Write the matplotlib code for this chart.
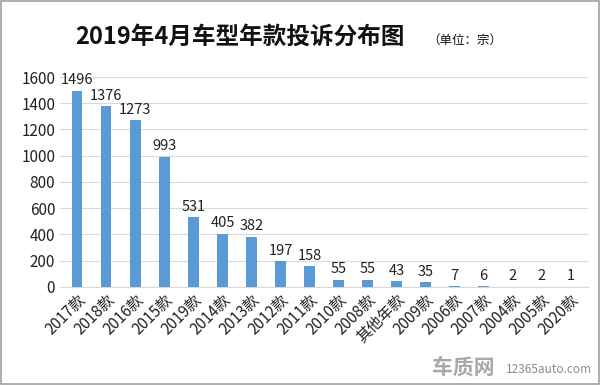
import matplotlib.pyplot as plt
from matplotlib.patches import Rectangle

plt.rcParams['font.family'] = ['Noto Sans CJK SC', 'DejaVu Sans']

categories = ['2017款', '2018款', '2016款', '2015款', '2019款', '2014款', '2013款',
              '2012款', '2011款', '2010款', '2008款', '其他年款', '2009款', '2006款',
              '2007款', '2004款', '2005款', '2020款']
values = [1496, 1376, 1273, 993, 531, 405, 382, 197, 158, 55, 55, 43, 35, 7, 6, 2, 2, 1]

fig = plt.figure(figsize=(6, 3.85), dpi=100)
ax = fig.add_axes([0.1, 0.255, 0.88, 0.545])

x = range(len(categories))
ax.bar(x, values, width=0.35, color='#5b9bd5', zorder=3)
for xi, v in zip(x, values):
    ax.text(xi, v + 25, str(v), ha='center', va='bottom', fontsize=10.5, color='#222222')

ax.set_ylim(0, 1600)
ax.set_yticks(range(0, 1601, 200))
ax.set_xlim(-0.6, len(categories) - 0.4)
ax.set_xticks(list(x))
ax.set_xticklabels(categories, rotation=45, ha='right', rotation_mode='anchor', fontsize=11)
ax.tick_params(axis='y', labelsize=11, length=0, colors='#222222')
ax.tick_params(axis='x', length=0, pad=3, colors='#222222')
ax.grid(axis='y', color='#d9d9d9', linewidth=0.8, zorder=0)
for s in ['top', 'right', 'left']:
    ax.spines[s].set_visible(False)
ax.spines['bottom'].set_color('#d9d9d9')

fig.text(0.4, 0.905, '2019年4月车型年款投诉分布图', ha='center', va='center',
         fontsize=17, fontweight='bold', color='#111111')
fig.text(0.775, 0.895, '（单位：宗）', ha='center', va='center', fontsize=9, color='#111111')

fig.text(0.825, 0.045, '车质网', ha='right', va='center', fontsize=15,
         fontweight='bold', color='#a8a8a8')
fig.text(0.987, 0.04, '12365auto.com', ha='right', va='center', fontsize=8.5, color='#8a8a8a')

fig.patches.append(Rectangle((0.002, 0.003), 0.996, 0.994, transform=fig.transFigure,
                             fill=False, edgecolor='#a0a0a0', linewidth=1.2))

fig.savefig('out.png', dpi=100)
